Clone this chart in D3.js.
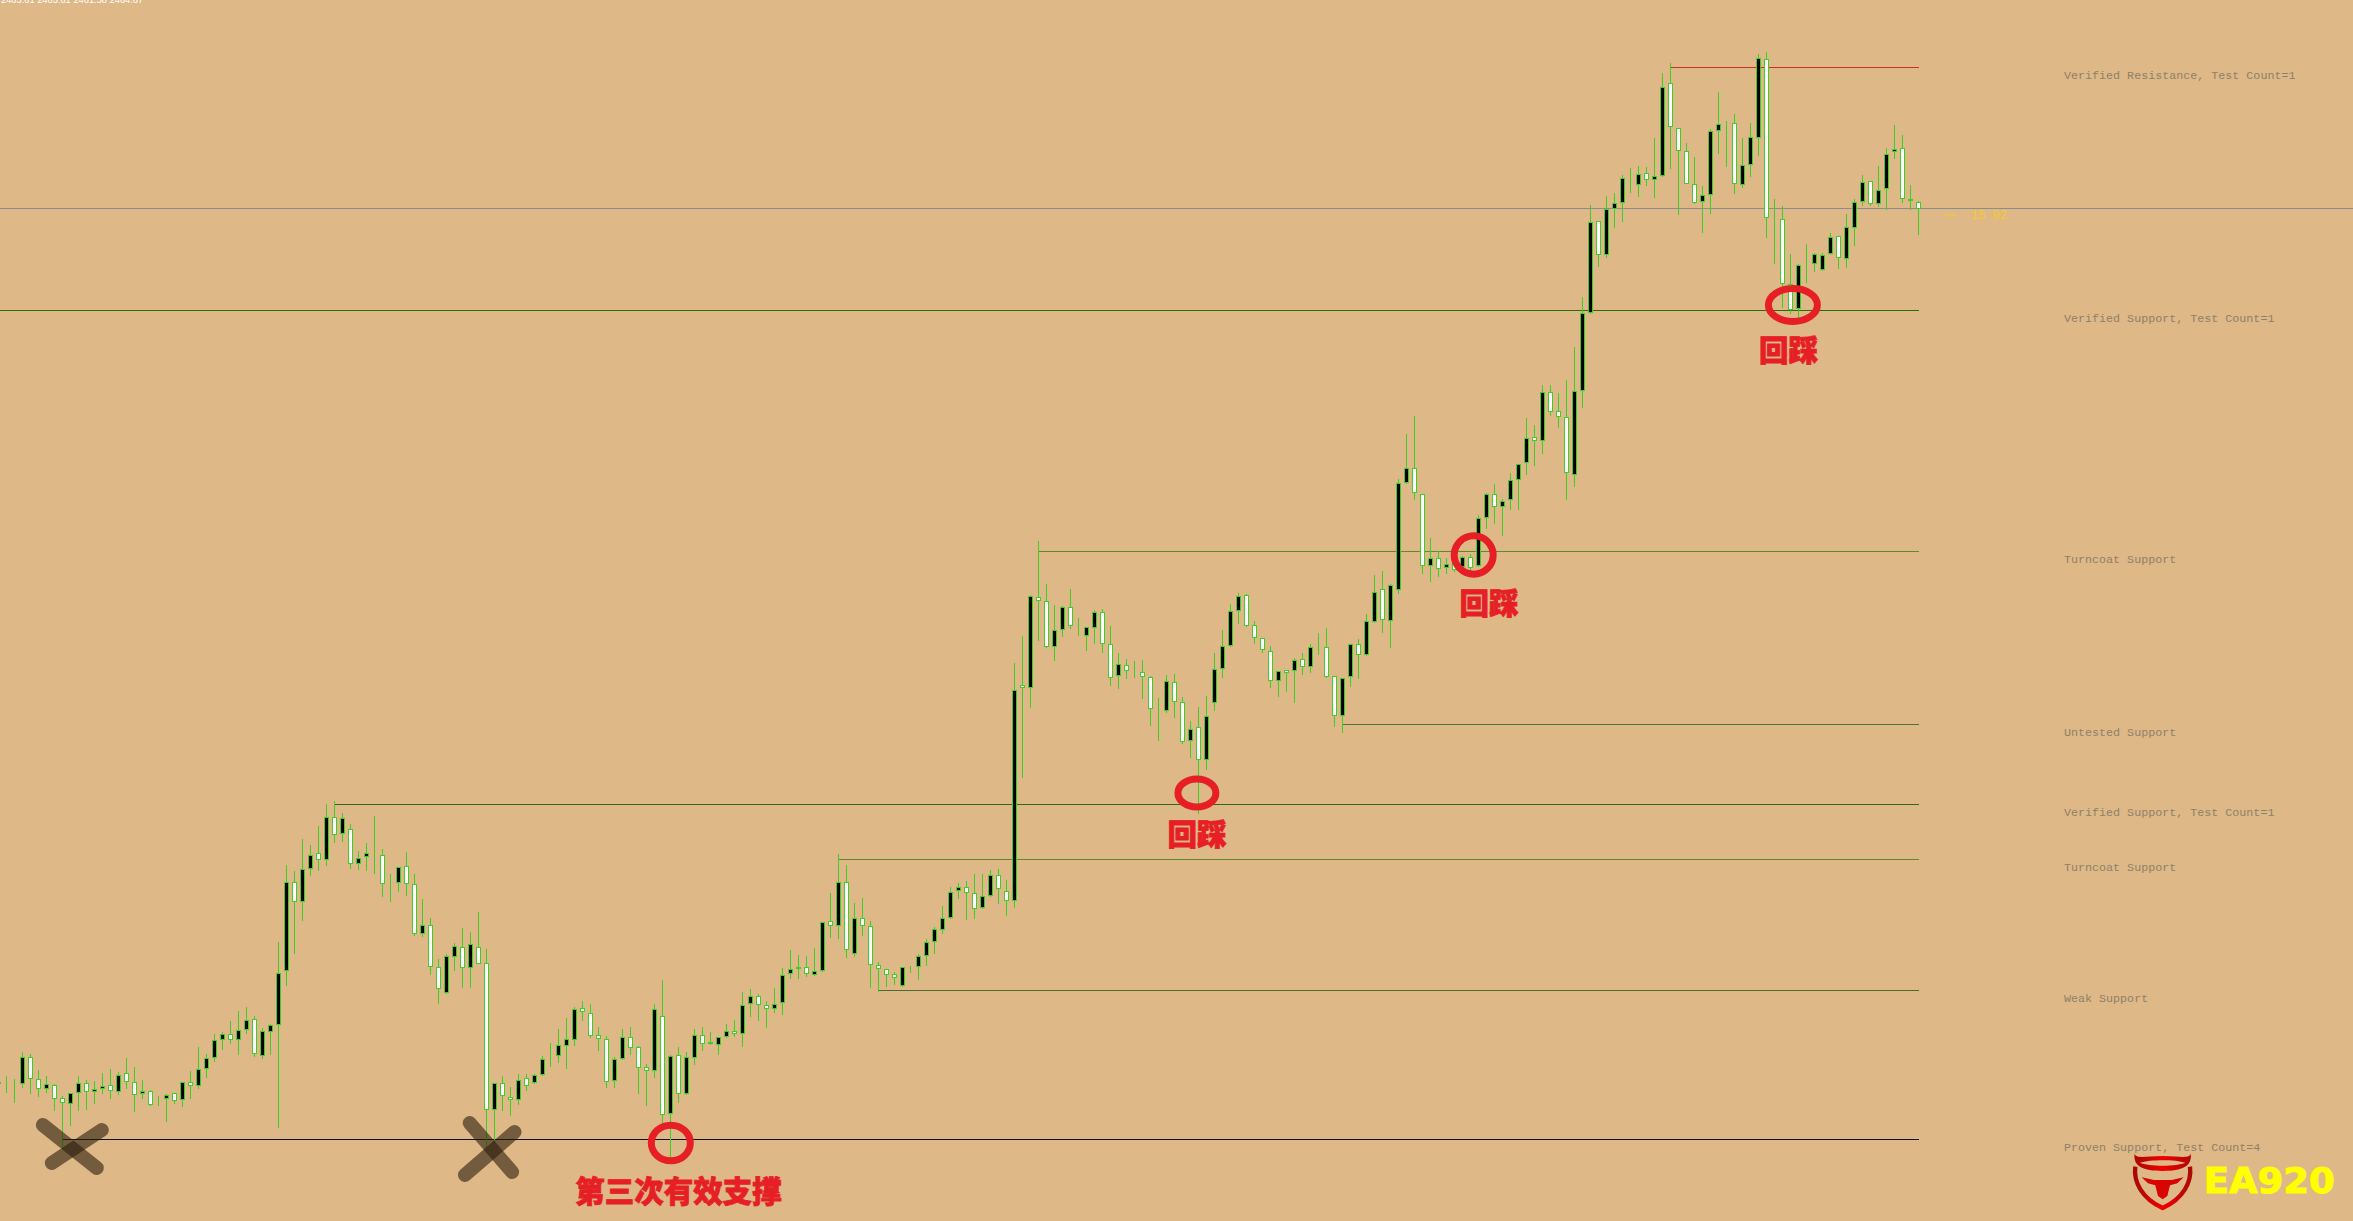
<!DOCTYPE html>
<html>
<head>
<meta charset="utf-8">
<script src="https://cdn.jsdelivr.net/npm/d3@7"></script>
<style>
  html, body { margin: 0; padding: 0; background: #deb887; overflow: hidden; }
  svg { display: block; }
</style>
</head>
<body>
<div id="chart"></div>
<script>
// candles
const open = [
  1591,1591,1590,1590,1616,1594,1585,1588,1575,1570,
  1581,1590,1582,1585,1588,1582,1600,1591,1580,1582,
  1569,1575,1580,1574,1591,1588,1605,1616,1634,1639,
  1634,1644,1654,1618,1642,1649,1703,1791,1772,1805,
  1820,1814,1856,1840,1844,1810,1817,1820,1818,1790,
  1791,1807,1789,1740,1748,1706,1681,1717,1726,1706,
  1726,1710,1564,1590,1576,1574,1595,1591,1599,1616,
  1618,1628,1634,1665,1660,1638,1634,1593,1615,1636,
  1626,1606,1603,1657,1560,1618,1580,1616,1638,1630,
  1629,1637,1642,1640,1670,1677,1668,1665,1671,1700,
  1705,1706,1699,1703,1752,1748,1791,1720,1755,1747,
  1708,1704,1699,1688,1707,1707,1718,1732,1744,1756,
  1783,1786,1780,1766,1778,1798,1782,1773,1988,1986,
  2076,2072,2027,2044,2066,2048,2038,2046,2061,2029,
  1998,2008,2002,2001,1996,1964,1963,1991,1971,1933,
  1946,1914,1971,2005,2028,2063,2078,2048,2035,2022,
  1993,2003,2003,2014,2007,2026,2026,1997,1958,1997,
  2029,2019,2052,2084,2053,2084,2191,2205,2179,2108,
  2115,2106,2110,2107,2116,2108,2156,2179,2167,2174,
  2194,2211,2236,2233,2281,2262,2256,2199,2283,2361,
  2452,2419,2465,2471,2498,2489,2500,2494,2498,2590,
  2545,2522,2489,2472,2479,2543,2550,2550,2489,2509,
  2536,2614,2455,2454,2389,2365,2409,2410,2404,2420,
  2437,2415,2446,2472,2492,2470,2485,2522,2525,2474,2471
];
const high = [
  1593,1598,1595,1622,1620,1604,1598,1590,1578,1581,
  1598,1594,1593,1601,1605,1602,1616,1607,1594,1584,
  1578,1580,1581,1592,1603,1627,1620,1640,1642,1653,
  1663,1667,1658,1646,1650,1732,1809,1803,1835,1829,
  1848,1870,1873,1861,1850,1823,1831,1858,1825,1800,
  1807,1822,1800,1775,1756,1715,1720,1731,1746,1742,
  1762,1725,1591,1598,1587,1600,1600,1600,1618,1631,
  1645,1656,1667,1673,1670,1647,1638,1617,1645,1647,
  1628,1610,1670,1694,1619,1627,1622,1645,1647,1642,
  1637,1650,1654,1682,1685,1680,1673,1686,1706,1724,
  1719,1718,1726,1752,1781,1820,1809,1771,1776,1753,
  1712,1705,1702,1707,1708,1720,1735,1747,1768,1787,
  1791,1793,1800,1800,1804,1805,1794,2011,2038,2079,
  2133,2090,2069,2068,2085,2056,2047,2064,2065,2048,
  2021,2015,2013,2014,1998,1976,1999,2000,1977,1953,
  1967,1978,2021,2044,2070,2081,2080,2053,2036,2028,
  2003,2004,2016,2021,2030,2041,2046,1998,1996,2030,
  2035,2060,2099,2103,2090,2195,2240,2258,2180,2136,
  2123,2116,2113,2118,2120,2159,2181,2190,2175,2201,
  2210,2256,2249,2289,2289,2281,2294,2327,2377,2469,
  2453,2478,2481,2499,2506,2508,2507,2536,2601,2611,
  2546,2531,2517,2488,2545,2582,2553,2560,2536,2551,
  2620,2622,2475,2468,2420,2410,2430,2421,2421,2441,
  2438,2460,2475,2499,2493,2508,2526,2549,2539,2489,2473
];
const low = [
  1572,1581,1571,1586,1580,1577,1581,1563,1526,1548,
  1563,1564,1570,1580,1575,1579,1585,1562,1575,1568,
  1568,1552,1570,1567,1575,1585,1596,1612,1624,1630,
  1619,1640,1617,1615,1619,1546,1688,1720,1753,1798,
  1803,1808,1831,1832,1805,1804,1803,1800,1777,1772,
  1782,1778,1738,1737,1699,1670,1680,1703,1686,1686,
  1710,1526,1531,1563,1558,1569,1583,1590,1598,1607,
  1611,1605,1628,1653,1636,1623,1586,1586,1614,1619,
  1580,1568,1596,1551,1516,1571,1579,1609,1623,1629,
  1619,1636,1637,1627,1657,1653,1646,1661,1659,1695,
  1695,1697,1698,1702,1736,1735,1716,1717,1738,1686,
  1682,1687,1689,1687,1701,1694,1708,1720,1740,1755,
  1775,1754,1755,1765,1777,1770,1758,1766,1896,1966,
  2033,2026,2013,2037,2045,2038,2023,2030,2021,1988,
  1985,1995,1996,1975,1948,1933,1961,1956,1930,1916,
  1860,1904,1963,1996,2027,2050,2047,2030,2021,1986,
  1977,1982,1971,1999,2001,2019,1996,1947,1941,1987,
  1995,2018,2051,2041,2026,2080,2190,2174,2100,2092,
  2097,2100,2102,2105,2103,2107,2145,2150,2138,2164,
  2164,2199,2208,2220,2258,2246,2174,2187,2266,2360,
  2407,2416,2446,2452,2481,2477,2488,2476,2497,2505,
  2459,2490,2470,2441,2460,2520,2507,2480,2486,2497,
  2518,2436,2410,2366,2360,2356,2391,2402,2403,2419,
  2405,2406,2428,2468,2468,2467,2464,2515,2471,2464,2439
];
const close = [
  1590,1591,1590,1616,1595,1585,1589,1575,1571,1580,
  1590,1582,1584,1587,1583,1598,1592,1579,1582,1569,
  1569,1578,1573,1591,1588,1604,1615,1633,1639,1634,
  1643,1653,1620,1642,1648,1700,1791,1772,1804,1818,
  1814,1856,1839,1855,1810,1815,1820,1820,1790,1790,
  1806,1790,1740,1748,1707,1685,1717,1727,1706,1729,
  1710,1564,1590,1578,1574,1593,1588,1598,1614,1616,
  1628,1634,1664,1662,1638,1635,1592,1614,1636,1626,
  1606,1603,1664,1559,1617,1580,1616,1638,1630,1631,
  1636,1642,1640,1668,1677,1669,1665,1669,1698,1704,
  1706,1700,1702,1751,1748,1791,1724,1755,1748,1709,
  1705,1699,1696,1706,1707,1717,1731,1744,1755,1781,
  1786,1781,1765,1777,1798,1785,1773,1983,1986,2077,
  2073,2027,2043,2066,2048,2048,2046,2061,2030,1996,
  2009,2003,2002,1997,1965,1964,1992,1972,1932,1944,
  1914,1957,2004,2027,2062,2077,2048,2036,2024,1993,
  2002,2001,2013,2007,2026,2026,1997,1958,1995,2029,
  2019,2052,2081,2054,2088,2190,2205,2181,2108,2115,
  2105,2109,2104,2116,2106,2155,2179,2167,2172,2193,
  2209,2235,2233,2281,2262,2257,2201,2282,2360,2451,
  2419,2464,2470,2495,2498,2499,2494,2497,2586,2547,
  2523,2490,2471,2478,2542,2549,2550,2490,2508,2536,
  2615,2456,2455,2390,2364,2408,2409,2419,2418,2436,
  2416,2446,2471,2491,2470,2483,2519,2524,2475,2473,2465
];

// support / resistance zones
const levelNames = ["Verified Resistance, Test Count=1", "Verified Support, Test Count=1", "Turncoat Support",
  "Untested Support", "Verified Support, Test Count=1", "Turncoat Support", "Weak Support", "Proven Support, Test Count=4"];
const levelPrices = [2606, 2363, 2122, 1949, 1869, 1814, 1683, 1534];
const levelStartBars = [209, -1, 130, 168, 42, 105, 110, 8];
const levelColors = ["#c9302c", "#2f6b06", "#5f8a26", "#4d7440", "#2f6b06", "#5f8a26", "#4a6c2c", "#111111"];

const bidPrice = 2465;
const quoteText = "2463.61 2465.61 2461.38 2464.67";
const timerText = "15 02";

// annotations: bar index and price
const crossLegs = [
  [[5.54, 1548], [12.29, 1505]], [[6.66, 1510], [12.91, 1543]],
  [[58.9, 1550], [64.2, 1501]], [[58.3, 1498], [64.5, 1541]]
];
const circleBars = [84.04, 149.8, 184.4, 224.3];
const circlePrices = [1530, 1880, 2118, 2368];
const circleRx = [19.5, 19, 19.5, 24.5];
const circleRy = [17.8, 14, 19.2, 16.5];
const noteTexts = ["第三次有效支撑", "回踩", "回踩", "回踩"];
const noteBars = [85, 149.8, 186.3, 223.75];
const notePrices = [1484, 1841, 2072, 2325];

const width = 2353, height = 1221;
const wickColor = "#3ccf26";

const barToX = d3.scaleLinear().domain([0, 240]).range([-1.5, 1918.5]);
const priceToY = d3.scaleLinear().domain([1452, 2673]).range([height, 0]);
const pixelY = p => Math.round(priceToY(p)) + 0.5;

const svg = d3.select("#chart")
  .append("svg")
    .attr("width", width)
    .attr("height", height)
    .style("background", "#deb887");

// Horizontal lines, behind the candles
svg.append("line")
    .attr("x1", 0).attr("x2", width)
    .attr("y1", pixelY(bidPrice)).attr("y2", pixelY(bidPrice))
    .attr("stroke", "#8c8c8c")
    .attr("shape-rendering", "crispEdges");

svg.selectAll("line.level")
  .data(levelPrices)
  .enter()
  .append("line")
    .attr("class", "level")
    .attr("x1", (d, i) => levelStartBars[i] < 0 ? 0 : barToX(levelStartBars[i]))
    .attr("x2", barToX(240))
    .attr("y1", d => pixelY(d))
    .attr("y2", d => pixelY(d))
    .attr("stroke", (d, i) => levelColors[i])
    .attr("shape-rendering", "crispEdges");

svg.selectAll("text.level")
  .data(levelNames)
  .enter()
  .append("text")
    .attr("class", "level")
    .attr("x", 2064)
    .attr("y", (d, i) => priceToY(levelPrices[i]) + 12)
    .attr("font-family", "'Liberation Mono', monospace")
    .attr("font-size", 11.7)
    .attr("fill", "#8f8068")
    .text(d => d);

// Candles
const candles = svg.append("g").selectAll("g")
  .data(open.map((d, i) => i))
  .enter()
  .append("g")
    .attr("shape-rendering", "crispEdges");

candles.append("line")
    .attr("x1", i => barToX(i))
    .attr("x2", i => barToX(i))
    .attr("y1", i => pixelY(high[i]))
    .attr("y2", i => pixelY(low[i]))
    .attr("stroke", wickColor);

candles.append("rect")
    .attr("x", i => barToX(i) - 2)
    .attr("width", 4)
    .attr("y", i => pixelY(Math.max(open[i], close[i])))
    .attr("height", i => pixelY(Math.min(open[i], close[i])) - pixelY(Math.max(open[i], close[i])))
    .attr("fill", i => close[i] > open[i] ? "#000000" : "#ffffff")
    .attr("stroke", wickColor);

// Timer beside the last candle
svg.append("line")
    .attr("x1", 1944).attr("x2", 1957)
    .attr("y1", priceToY(bidPrice) + 7).attr("y2", priceToY(bidPrice) + 7)
    .attr("stroke", "#f6cb2a");
svg.append("text")
    .attr("x", 1971)
    .attr("y", priceToY(bidPrice) + 11)
    .attr("font-family", "'Liberation Mono', monospace")
    .attr("font-size", 12)
    .attr("fill", "#f6cb2a")
    .text(timerText);

// Quote line, cut off by the top edge
svg.append("text")
    .attr("x", 1)
    .attr("y", 3)
    .attr("font-family", "'Liberation Sans', sans-serif")
    .attr("font-size", 9.3)
    .attr("fill", "#ffffff")
    .text(quoteText);

// Crosses over the failed supports
svg.selectAll("line.cross")
  .data(crossLegs)
  .enter()
  .append("line")
    .attr("class", "cross")
    .attr("x1", d => barToX(d[0][0]))
    .attr("y1", d => priceToY(d[0][1]))
    .attr("x2", d => barToX(d[1][0]))
    .attr("y2", d => priceToY(d[1][1]))
    .attr("stroke", "#2c1c0c")
    .attr("stroke-opacity", 0.6)
    .attr("stroke-width", 14)
    .attr("stroke-linecap", "round");

// Red rings and notes
svg.selectAll("ellipse.ring")
  .data(circleBars)
  .enter()
  .append("ellipse")
    .attr("class", "ring")
    .attr("cx", d => barToX(d))
    .attr("cy", (d, i) => priceToY(circlePrices[i]))
    .attr("rx", (d, i) => circleRx[i])
    .attr("ry", (d, i) => circleRy[i])
    .attr("fill", "none")
    .attr("stroke", "#e61f27")
    .attr("stroke-width", 7);

svg.selectAll("text.note")
  .data(noteTexts)
  .enter()
  .append("text")
    .attr("class", "note")
    .attr("x", (d, i) => barToX(noteBars[i]))
    .attr("y", (d, i) => priceToY(notePrices[i]))
    .attr("text-anchor", "middle")
    .attr("dominant-baseline", "central")
    .attr("font-family", "'Noto Sans CJK SC', sans-serif")
    .attr("font-weight", 900)
    .attr("font-size", 29.5)
    .attr("fill", "#e61f27")
    .attr("stroke", "#e61f27")
    .attr("stroke-width", 0.8)
    .text(d => d);

// EA920 logo
const logo = svg.append("g").attr("transform", "translate(2000,1100) scale(0.3333)");
const red = logo.append("defs").append("linearGradient")
    .attr("id", "logoRed").attr("x1", 0).attr("x2", 1).attr("y1", 0).attr("y2", 0);
red.append("stop").attr("offset", "0%").attr("stop-color", "#a80808");
red.append("stop").attr("offset", "50%").attr("stop-color", "#f00000");
red.append("stop").attr("offset", "100%").attr("stop-color", "#b00808");

logo.append("path")
    .attr("d", "M404,160 C398,200 430,213 488,213 C546,213 578,200 572,160 C570,178 540,168 488,168 C436,168 406,178 404,160 Z M420,188 C450,178 526,178 556,188 C530,200 446,200 420,188 Z")
    .attr("fill", "url(#logoRed)")
    .attr("fill-rule", "evenodd");
logo.append("path")
    .attr("d", "M406,200 C400,245 425,295 488,324 C551,295 576,245 570,200")
    .attr("fill", "none")
    .attr("stroke", "url(#logoRed)")
    .attr("stroke-width", 13);
logo.append("path")
    .attr("d", "M425,232 L462,240 L515,240 L551,232 L532,250 L510,256 L502,288 L488,298 L474,288 L466,256 L444,250 Z")
    .attr("fill", "#d80404");

logo.append("text")
    .attr("x", 611)
    .attr("y", 279)
    .attr("font-family", "'DejaVu Sans', sans-serif")
    .attr("font-weight", "bold")
    .attr("font-size", 104)
    .attr("textLength", 393)
    .attr("lengthAdjust", "spacingAndGlyphs")
    .attr("fill", "#ffff00")
    .attr("stroke", "#ffff00")
    .attr("stroke-width", 3)
    .text("EA920");
</script>
</body>
</html>
